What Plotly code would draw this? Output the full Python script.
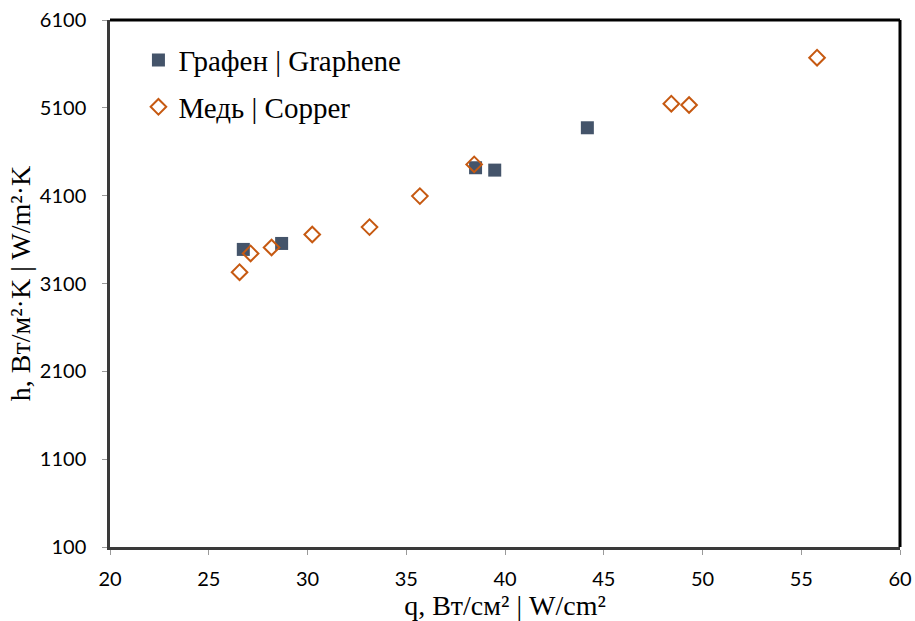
import plotly.graph_objects as go

graphene_q = [26.75, 28.69, 38.51, 39.48, 44.17]
graphene_h = [3488, 3556, 4418, 4391, 4873]

copper_q = [26.56, 27.12, 28.18, 30.24, 33.14, 35.69, 38.44, 48.42, 49.32, 55.80]
copper_h = [3229, 3442, 3510, 3658, 3742, 4095, 4456, 5147, 5132, 5671]

x_ticks = [20, 25, 30, 35, 40, 45, 50, 55, 60]
y_ticks = [100, 1100, 2100, 3100, 4100, 5100, 6100]

SERIF = "Liberation Serif"
SANS = "Lato"

fig = go.Figure()
fig.add_trace(go.Scatter(
    x=graphene_q, y=graphene_h, mode="markers", name="Графен | Graphene",
    legendgroup="g",
    marker=dict(symbol="square", size=13, color="#44546A", line=dict(width=0)),
))
fig.add_trace(go.Scatter(
    x=copper_q, y=copper_h, mode="markers", name="Медь | Copper",
    legendgroup="c",
    marker=dict(symbol="diamond-open", size=12, color="#C65911", line=dict(width=2, color="#C65911")),
))

axis_common = dict(
    showgrid=False, zeroline=False, showline=True, linecolor="#3a3a3a", linewidth=2.5,
    mirror=False, ticks="outside", ticklen=5, tickcolor="#9a9a9a", tickwidth=1,
    tickfont=dict(family=SANS, size=20, color="black"), automargin=False,
    ticklabeloverflow="allow",
)

fig.update_layout(
    width=915, height=621,
    margin=dict(l=110, r=15, t=20, b=74),
    paper_bgcolor="white", plot_bgcolor="white",
    showlegend=True,
    legend=dict(
        x=0.036, y=0.972, xanchor="left", yanchor="top",
        font=dict(family=SERIF, size=29, color="black"),
        bgcolor="rgba(0,0,0,0)", itemwidth=30,
        traceorder="grouped", tracegroupgap=6,
    ),
    xaxis=dict(
        range=[20, 60], tickvals=x_ticks, ticktext=[str(v) for v in x_ticks],
        ticklabelstandoff=7,
        title=dict(text="q, Вт/см² | W/cm²", standoff=7,
                   font=dict(family=SERIF, size=28, color="black")),
        **axis_common,
    ),
    yaxis=dict(
        range=[100, 6100], tickvals=y_ticks, ticktext=[str(v) for v in y_ticks],
        ticklabelstandoff=12,
        title=dict(text="h, Вт/м²·K | W/m²·K", standoff=2,
                   font=dict(family=SERIF, size=28, color="black")),
        **axis_common,
    ),
    shapes=[
        dict(type="line", xref="paper", yref="paper", x0=0, x1=1, y0=1, y1=1,
             line=dict(color="black", width=3)),
        dict(type="line", xref="paper", yref="paper", x0=1, x1=1, y0=0, y1=1,
             line=dict(color="black", width=3)),
    ],
)

fig.write_html(
    "out.html",
    config={"displayModeBar": False},
    post_script="document.body.style.margin='0';document.body.style.overflow='hidden';",
)
